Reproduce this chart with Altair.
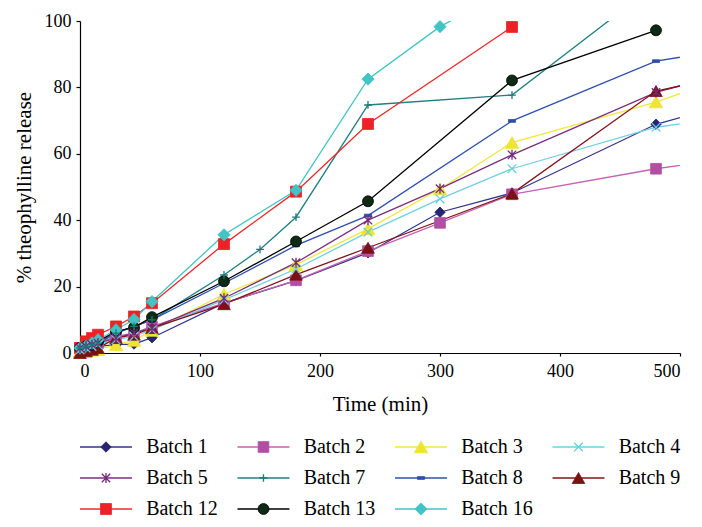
import altair as alt
import pandas as pd

# ---------------- data ----------------
BATCHES = ["Batch 1", "Batch 2", "Batch 3", "Batch 4", "Batch 5", "Batch 7",
           "Batch 8", "Batch 9", "Batch 12", "Batch 13", "Batch 16"]

TIMES = [0, 5, 10, 15, 30, 45, 60, 120, 150, 180, 240, 300, 360, 480, 600]

N = None
B1 = [1.5, 1.5, 1.5, 2.0, 2.5, 2.7, 4.6, 15.0, N, 21.8, 30.2, 42.4, 48.2, 68.9, 81.0]
B2 = [1.5, 2.0, 2.5, 3.0, 5.0, 6.0, 8.0, 15.0, N, 21.9, 30.7, 39.2, 47.8, 55.5, 61.5]
B3 = [0.5, 0.5, 0.8, 1.0, 2.5, 3.8, 6.8, 17.7, N, 26.6, 37.4, 49.4, 63.4, 75.6, 91.0]
B4 = [1.0, 1.5, 2.0, 2.5, 4.0, 5.0, 7.0, 16.0, N, 25.3, 36.4, 46.4, 55.5, 68.0, 74.0]
B5 = [1.5, 2.0, 2.5, 3.0, 4.5, 6.0, 7.5, 16.5, N, 27.2, 40.0, 49.5, 59.7, 78.5, 90.5]
B7 = [1.5, 2.0, 2.5, 3.0, 6.0, 8.0, 10.0, 23.5, 31.2, 40.9, 74.7, N, 77.7, 111.0, N]
B8 = [1.5, 2.0, 2.5, 3.0, 6.0, 8.0, 10.0, 21.0, N, 32.4, 41.4, N, 69.9, 87.9, 95.0]
B9 = [0.0, 0.5, 1.0, 1.5, 4.5, 5.5, 7.5, 14.7, N, 23.6, 31.7, N, 48.0, 78.9, 88.0]
B12 = [1.5, 3.5, 4.5, 5.5, 8.0, 11.0, 15.0, 32.8, N, 48.6, 69.0, N, 98.2, N, N]
B13 = [1.5, 2.0, 2.5, 3.5, 6.5, 7.7, 10.8, 21.6, N, 33.6, 45.7, N, 82.1, 97.2, N]
B16 = [1.5, 2.0, 3.0, 4.0, 7.0, 10.1, 15.5, 35.6, N, 49.0, 82.5, 98.3, 110.0, N, N]
SERIES = [B1, B2, B3, B4, B5, B7, B8, B9, B12, B13, B16]

# ---------------- styles ----------------
LINE_COLORS = ["#34348A", "#C462B4", "#F0E83C", "#72D0E0", "#7A2E80", "#1E8080",
               "#3050B0", "#801418", "#F02828", "#000000", "#40C4C4"]
MARK_COLORS = ["#26266E", "#B24EA4", "#EEE530", "#6CCEDE", "#742878", "#1E7878",
               "#2F4FA8", "#7A1214", "#EE2226", "#0E2A14", "#40C4C4"]
STROKE_COLORS = ["#26266E", "#B24EA4", "#EEE530", "#6CCEDE", "#742878", "#1E7878",
                 "#2F4FA8", "#7A1214", "#EE2226", "#000000", "#40C4C4"]
X_PATH = "M-1,-1L1,1M-1,1L1,-1"
STAR_PATH = "M-1,-1L1,1M-1,1L1,-1M0,-1.2L0,1.2"
PLUS_PATH = "M-1,0L1,0M0,-1L0,1"
DASH_PATH = "M-1,-0.4L1,-0.4L1,0.4L-1,0.4Z"
SHAPES = ["diamond", "square", "triangle-up", X_PATH, STAR_PATH, PLUS_PATH,
          DASH_PATH, "triangle-up", "square", "circle", "diamond"]
SIZES = [110, 115, 180, 75, 70, 60, 50, 160, 120, 120, 150]
FILLED = [True, True, True, False, False, False, True, True, True, True, True]

FONT = "Liberation Serif"

rows = []
for i, (b, vals) in enumerate(zip(BATCHES, SERIES)):
    for t, v in zip(TIMES, vals):
        if v is None:
            continue
        rows.append({"batch": b, "idx": i, "time": t, "value": v,
                     "lc": LINE_COLORS[i], "mc": MARK_COLORS[i], "sc": STROKE_COLORS[i],
                     "shape": SHAPES[i], "size": SIZES[i], "filled": FILLED[i]})
df = pd.DataFrame(rows)

axis_style = dict(labelFont=FONT, titleFont=FONT, labelFontSize=18, titleFontSize=21,
                  titleFontWeight="normal", labelColor="black", titleColor="black",
                  domainColor="black", tickColor="black", domainWidth=1.2,
                  tickWidth=1.2, grid=False)
x_enc = alt.X("time:Q", scale=alt.Scale(domain=[0, 500], nice=False),
              axis=alt.Axis(values=[0, 100, 200, 300, 400, 500], title="Time (min)",
                            tickSize=3, labelPadding=6, titlePadding=13, **axis_style))
y_enc = alt.Y("value:Q", scale=alt.Scale(domain=[0, 100], nice=False),
              axis=alt.Axis(values=[0, 20, 40, 60, 80, 100],
                            title="% theophylline release",
                            tickSize=4, labelPadding=5, titlePadding=10, **axis_style))

base = alt.Chart(df)
lines = base.mark_line(strokeWidth=1.3, clip=True).encode(
    x=x_enc, y=y_enc,
    color=alt.Color("lc:N", scale=None),
    detail="batch:N",
    order="time:Q",
)
pts = base.transform_filter("datum.time <= 480 && datum.value <= 100")
filled_pts = pts.transform_filter("datum.filled").mark_point(
    filled=True, opacity=1, strokeWidth=0.8).encode(
    x="time:Q", y="value:Q",
    fill=alt.Fill("mc:N", scale=None),
    stroke=alt.Stroke("sc:N", scale=None),
    shape=alt.Shape("shape:N", scale=None),
    size=alt.Size("size:Q", scale=None),
)
open_pts = pts.transform_filter("!datum.filled").mark_point(
    filled=False, opacity=1, strokeWidth=1.3).encode(
    x="time:Q", y="value:Q",
    stroke=alt.Stroke("mc:N", scale=None),
    shape=alt.Shape("shape:N", scale=None),
    size=alt.Size("size:Q", scale=None),
)
main = alt.layer(lines, filled_pts, open_pts).properties(width=600, height=332)

# ---------------- legend ----------------
leg_rows = []
for i, b in enumerate(BATCHES):
    leg_rows.append({"batch": b, "col": i % 4, "row": i // 4,
                     "lc": LINE_COLORS[i], "mc": MARK_COLORS[i], "sc": STROKE_COLORS[i],
                     "shape": SHAPES[i], "size": SIZES[i], "filled": FILLED[i]})
ldf = pd.DataFrame(leg_rows)
lx = alt.Scale(domain=[0, 600 / 157.5], nice=False, zero=False)
ly = alt.Scale(domain=[-18 / 31, 72 / 31], nice=False, zero=False, reverse=True)
lbase = alt.Chart(ldf).transform_calculate(
    x0="datum.col", x1="datum.col + 0.33", xm="datum.col + 0.165", xt="datum.col + 0.42")
lrule = lbase.mark_rule(strokeWidth=1.5).encode(
    x=alt.X("x0:Q", scale=lx, axis=None), x2="x1:Q",
    y=alt.Y("row:Q", scale=ly, axis=None),
    color=alt.Color("lc:N", scale=None))
lfill = lbase.transform_filter("datum.filled").mark_point(
    filled=True, opacity=1, strokeWidth=0.8).encode(
    x=alt.X("xm:Q", scale=lx, axis=None), y=alt.Y("row:Q", scale=ly, axis=None),
    fill=alt.Fill("mc:N", scale=None), stroke=alt.Stroke("sc:N", scale=None),
    shape=alt.Shape("shape:N", scale=None), size=alt.Size("size:Q", scale=None))
lopen = lbase.transform_filter("!datum.filled").mark_point(
    filled=False, opacity=1, strokeWidth=1.3).encode(
    x=alt.X("xm:Q", scale=lx, axis=None), y=alt.Y("row:Q", scale=ly, axis=None),
    stroke=alt.Stroke("mc:N", scale=None),
    shape=alt.Shape("shape:N", scale=None), size=alt.Size("size:Q", scale=None))
ltext = lbase.mark_text(align="left", baseline="middle", font=FONT, fontSize=20,
                        color="black").encode(
    x=alt.X("xt:Q", scale=lx, axis=None), y=alt.Y("row:Q", scale=ly, axis=None),
    text="batch:N")
legend = alt.layer(lrule, lfill, lopen, ltext).properties(width=600, height=90)

chart = alt.vconcat(main, legend, spacing=13).properties(
    padding={"top": 3, "left": 4, "right": 0, "bottom": 0}
).configure_view(stroke="transparent")

chart.save("out.html", embed_options={"renderer": "svg", "actions": False})
